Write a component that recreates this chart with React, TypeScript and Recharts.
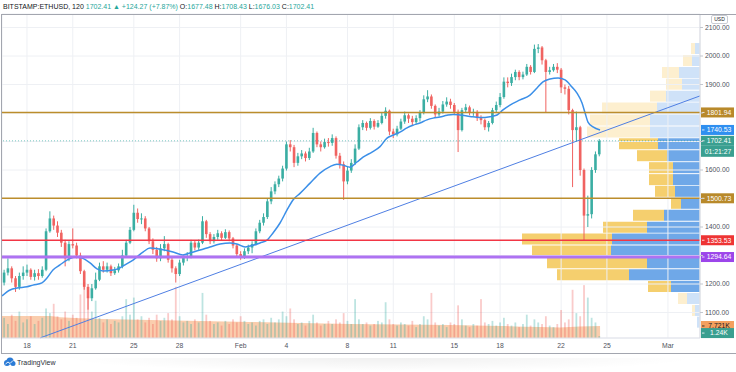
import { Area, Bar, CartesianGrid, Cell, ComposedChart, Line, ReferenceLine, XAxis, YAxis } from 'recharts'

// 6h candles, time = day of 2021 (Jan 1 = 1, Feb 1 = 32, Mar 1 = 60)
const FIRST_OPEN = 1205
const CANDLE_START = 16.5
const CANDLE_STEP = 0.25

const closes = [
  1240, 1255, 1220, 1190, 1228, 1240, 1250, 1225, 1238, 1228,
  1250, 1385, 1430, 1405, 1380, 1345, 1290, 1340, 1335, 1300,
  1245, 1190, 1150, 1185, 1215, 1262, 1250, 1262, 1238, 1248,
  1262, 1300, 1345, 1390, 1450, 1428, 1430, 1395, 1350, 1320,
  1290, 1325, 1340, 1285, 1255, 1235, 1275, 1292, 1298, 1345,
  1328, 1345, 1420, 1375, 1350, 1365, 1378, 1362, 1382, 1360,
  1335, 1305, 1295, 1315, 1328, 1340, 1385, 1415, 1435, 1490,
  1525, 1550, 1570, 1605, 1690, 1680, 1625, 1648, 1658, 1642,
  1665, 1730, 1690, 1680, 1698, 1695, 1712, 1650, 1620, 1560,
  1598, 1625, 1675, 1750, 1765, 1748, 1772, 1752, 1765, 1790,
  1808, 1735, 1725, 1745, 1770, 1792, 1780, 1768, 1782, 1800,
  1848, 1858, 1825, 1795, 1805, 1830, 1840, 1828, 1804, 1740,
  1810, 1820, 1800, 1804, 1782, 1775, 1750, 1765, 1810, 1828,
  1856, 1910, 1905, 1926, 1944, 1926, 1935, 1962, 1944, 2025,
  2030, 1985, 1944, 1950, 1962, 1952, 1890, 1885, 1810, 1740,
  1750, 1600, 1440, 1445, 1600, 1655, 1702.41,
]
const highs = [
  1250, 1290, 1262, 1228, 1240, 1262, 1268, 1255, 1250, 1252,
  1262, 1395, 1455, 1440, 1420, 1390, 1355, 1350, 1395, 1345,
  1310, 1250, 1200, 1200, 1240, 1275, 1280, 1275, 1268, 1260,
  1272, 1320, 1355, 1400, 1478, 1465, 1448, 1438, 1400, 1360,
  1330, 1340, 1368, 1345, 1292, 1262, 1285, 1300, 1312, 1355,
  1352, 1356, 1438, 1425, 1382, 1375, 1390, 1385, 1392, 1388,
  1365, 1340, 1315, 1325, 1338, 1350, 1395, 1425, 1448, 1500,
  1540, 1560, 1580, 1615, 1700, 1705, 1688, 1660, 1670, 1665,
  1678, 1748, 1735, 1700, 1710, 1712, 1725, 1718, 1660, 1630,
  1612, 1638, 1690, 1760, 1775, 1770, 1782, 1778, 1775, 1800,
  1820, 1812, 1745, 1755, 1780, 1805, 1798, 1790, 1792, 1810,
  1862, 1880, 1865, 1830, 1818, 1842, 1855, 1850, 1835, 1812,
  1818, 1832, 1826, 1815, 1810, 1792, 1780, 1772, 1818, 1840,
  1870, 1925, 1925, 1938, 1952, 1950, 1945, 1972, 1968, 2040,
  2042, 2035, 1990, 1962, 1972, 1975, 1958, 1900, 1895, 1815,
  1805, 1755, 1605, 1510, 1610, 1665, 1708.43,
]
const lows = [
  1195, 1230, 1205, 1172, 1180, 1215, 1228, 1215, 1212, 1215,
  1222, 1245, 1380, 1390, 1365, 1330, 1262, 1280, 1325, 1290,
  1235, 1180, 1110, 1140, 1180, 1210, 1240, 1240, 1228, 1232,
  1240, 1255, 1295, 1340, 1385, 1415, 1410, 1385, 1340, 1305,
  1278, 1280, 1315, 1275, 1240, 1205, 1228, 1265, 1280, 1290,
  1318, 1320, 1340, 1362, 1340, 1342, 1355, 1352, 1358, 1350,
  1325, 1295, 1285, 1288, 1305, 1308, 1335, 1378, 1405, 1428,
  1480, 1515, 1540, 1560, 1598, 1665, 1610, 1615, 1638, 1630,
  1635, 1660, 1680, 1665, 1675, 1682, 1685, 1640, 1605, 1495,
  1550, 1590, 1618, 1670, 1740, 1738, 1742, 1742, 1748, 1760,
  1780, 1722, 1712, 1718, 1740, 1762, 1765, 1755, 1760, 1770,
  1795, 1838, 1815, 1785, 1788, 1798, 1822, 1815, 1795, 1663,
  1735, 1800, 1792, 1790, 1772, 1760, 1740, 1735, 1760, 1800,
  1820, 1850, 1890, 1895, 1915, 1915, 1918, 1930, 1935, 1940,
  2010, 1970, 1803, 1935, 1945, 1940, 1870, 1865, 1795, 1540,
  1700, 1580, 1354, 1400, 1430, 1590, 1648,
]
// volume, thousands of ETH
const volumes = [
  13, 9, 15, 11, 17, 10, 12, 14, 9, 11, 13,
  19, 16, 22, 14, 12, 17, 11, 15, 13, 28, 36,
  27, 17, 24, 13, 10, 12, 9, 11, 10, 14, 25,
  15, 26, 12, 14, 10, 13, 9, 15, 11, 13, 16,
  12, 33, 14, 10, 11, 9, 12, 10, 29, 15, 11,
  9, 10, 8, 11, 9, 12, 10, 14, 11, 9, 10,
  8, 11, 12, 9, 13, 10, 12, 17, 14, 19, 12,
  9, 10, 8, 11, 15, 10, 8, 9, 11, 9, 12,
  10, 16, 11, 9, 25, 12, 9, 10, 8, 9, 11,
  10, 23, 12, 9, 8, 10, 9, 8, 11, 7, 9,
  14, 12, 29, 10, 8, 9, 7, 10, 9, 21, 12,
  8, 7, 9, 8, 25, 10, 9, 11, 8, 10, 13,
  9, 8, 10, 7, 9, 15, 8, 12, 10, 9, 14,
  8, 7, 9, 18, 10, 12, 31, 16, 14, 34, 26, 13, 10, 1.24,
]

const maDays = [
  16.36, 16.89, 17.34, 18.0, 18.39, 18.98, 19.31, 19.7, 20.16, 20.62,
  21.15, 21.6, 22.13, 22.59, 22.98, 23.64, 23.96, 24.42, 24.95, 25.6,
  26.06, 26.72, 27.57, 28.22, 28.68, 29.34, 29.99, 30.65, 31.3, 31.76,
  32.29, 32.61, 33.27, 33.73, 34.12, 34.58, 35.04, 35.43, 35.89, 36.55,
  37.2, 37.86, 38.31, 38.71, 39.17, 39.62, 40.02, 40.61, 41.13, 41.59,
  41.98, 42.44, 42.9, 43.29, 43.75, 44.21, 44.61, 45.06, 45.52, 45.92,
  46.37, 47.03, 47.69, 48.34, 48.8, 49.19, 49.65, 50.31, 50.96, 51.42,
  51.81, 52.27, 52.8, 53.26, 53.71, 54.04, 54.37, 54.57, 54.76, 55.09, 55.55,
]
const maValues = [
  1158, 1179, 1186, 1190, 1196, 1204, 1221, 1249, 1267, 1284,
  1295, 1291, 1274, 1253, 1246, 1249, 1253, 1267, 1284, 1312,
  1326, 1322, 1312, 1302, 1309, 1319, 1330, 1340, 1344, 1340,
  1330, 1333, 1344, 1354, 1379, 1414, 1460, 1495, 1518, 1554,
  1589, 1612, 1620, 1617, 1610, 1628, 1645, 1663, 1682, 1712,
  1722, 1733, 1748, 1757, 1765, 1776, 1782, 1786, 1792, 1795,
  1793, 1788, 1784, 1787, 1793, 1811, 1828, 1846, 1863, 1888,
  1909, 1919, 1923, 1916, 1891, 1870, 1835, 1800, 1768, 1751, 1740.53,
]

const volMaDays = [16.36, 19.51, 20.16, 22.78, 26.06, 29.34, 32.61, 35.89, 39.17, 42.44, 45.72, 49.0, 51.62, 52.93, 54.24, 55.55]
const volMaValues = [14.1, 14.1, 13.3, 12.3, 11.6, 10.9, 10.3, 9.6, 9.0, 8.7, 8.4, 7.7, 7.1, 6.8, 7.4, 7.721]

// visible range volume profile rows
const vpPrices = [2025, 1983, 1941, 1900, 1858, 1816, 1774, 1732, 1691, 1649, 1607, 1565, 1524, 1482, 1440, 1398, 1357, 1315, 1273, 1231, 1190, 1148, 1106, 1065]
const vpUp = [5, 8, 21, 18, 34, 43, 50, 50, 42, 33, 27, 27, 25, 19, 36, 53, 88, 89, 53, 71, 29, 13, 5, 3]
const vpDown = [4, 9, 17, 16, 16, 55, 60, 63, 39, 30, 24, 24, 20, 10, 31, 44, 90, 79, 100, 72, 23, 9, 3, 0]
const vpValueArea = [0, 0, 0, 0, 0, 0, 0, 0, 1, 1, 1, 1, 1, 1, 1, 1, 1, 1, 1, 1, 1, 0, 0, 0]

const dayTicks = [18, 21, 25, 28, 32, 35, 39, 42, 46, 49, 53, 56, 60]
const priceTicks = [1100, 1200, 1300, 1400, 1500, 1600, 1700, 1800, 1900, 2000, 2100]
const coveredTicks = [1300, 1500, 1700, 1800]

const trendFrom = { x: 18.87, y: 1011 }
const trendTo = { x: 62.1, y: 1860 }

const X_DOMAIN: [number, number] = [16.362, 62.1]
const Y_DOMAIN: [number, number] = [1010.53, 2147.37]
const VOL_DOMAIN: [number, number] = [0, 208.4]

const UP = '#26a69a'
const DOWN = '#ef5350'
const FONT = '"Liberation Sans", Arial, sans-serif'

const candles = closes.map((c, i) => {
  const o = i === 0 ? FIRST_OPEN : closes[i - 1]
  return { t: CANDLE_START + i * CANDLE_STEP, o, c, h: highs[i], l: lows[i], range: [lows[i], highs[i]], v: volumes[i] }
})
const maData = maDays.map((t, i) => ({ t, ma: maValues[i] }))
const volMaData = volMaDays.map((t, i) => ({ t, vm: volMaValues[i] }))
const profile = vpPrices.map((p, i) => ({ p, up: vpUp[i], dn: vpDown[i], va: vpValueArea[i] === 1 }))

function dayLabel(d: number) {
  if (d === 32) return 'Feb'
  if (d === 60) return 'Mar'
  return String(d > 32 ? d - 31 : d)
}

function Candle(props: any) {
  const { x, y, width, height, payload } = props
  if (x == null || !payload) return <g />
  const top = Math.min(y, y + height)
  const h = Math.abs(height)
  const span = payload.h - payload.l
  const k = span > 0 ? h / span : 0
  const yo = top + (payload.h - payload.o) * k
  const yc = top + (payload.h - payload.c) * k
  const col = payload.c >= payload.o ? UP : DOWN
  const cx = x + width / 2
  return (
    <g opacity={0.9}>
      <line x1={cx} x2={cx} y1={top} y2={top + h} stroke={col} strokeWidth={1} />
      <rect x={cx - 1.3} y={Math.min(yo, yc)} width={2.6} height={Math.max(1, Math.abs(yc - yo))} fill={col} />
    </g>
  )
}

function VolBar(props: any) {
  const { x, y, width, height, payload } = props
  if (x == null || !payload) return <g />
  const col = payload.c >= payload.o ? 'rgba(38,166,154,0.3)' : 'rgba(239,83,80,0.3)'
  return <rect x={x + width / 2 - 0.9} y={Math.min(y, y + height)} width={1.8} height={Math.abs(height)} fill={col} />
}

function PriceTick(props: any) {
  const { x, y, payload } = props
  if (coveredTicks.includes(payload.value)) return <g />
  return (
    <text x={x} y={y} dy="0.35em" fontSize={6.8} fill="#50535e" textAnchor="start">
      {payload.value.toFixed(2)}
    </text>
  )
}

function Tag(props: any) {
  const { viewBox, text, bg, fg = '#fff', extra, dy = 0 } = props
  if (!viewBox) return <g />
  const x = viewBox.x + viewBox.width + 1
  const y = viewBox.y + dy
  return (
    <g>
      <rect x={x} y={y - 5} width={33} height={10} fill={bg} />
      <line x1={x + 1} x2={x + 3.5} y1={y} y2={y} stroke={fg} strokeWidth={0.8} />
      <text x={x + 18} y={y} dy="0.35em" textAnchor="middle" fontSize={6.8} fill={fg}>{text}</text>
      {extra && (
        <g>
          <rect x={x} y={y + 5} width={33} height={11} fill={bg} />
          <text x={x + 17} y={y + 10.5} dy="0.35em" textAnchor="middle" fontSize={6.8} fill={fg}>{extra}</text>
        </g>
      )}
    </g>
  )
}

function VolumeProfile() {
  return (
    <ComposedChart
      layout="vertical"
      width={736}
      height={354}
      data={profile}
      margin={{ top: 14, right: 36, bottom: 16, left: 2 }}
      style={{ position: 'absolute', left: 0, top: 0 }}
    >
      <XAxis type="number" domain={[0, 698]} reversed hide allowDataOverflow />
      <YAxis type="number" dataKey="p" domain={Y_DOMAIN} reversed hide allowDataOverflow />
      <Bar dataKey="up" stackId="vp" barSize={11} isAnimationActive={false}>
        {profile.map((r, i) => <Cell key={i} fill={r.va ? '#6fa8e8' : '#cfe2f8'} />)}
      </Bar>
      <Bar dataKey="dn" stackId="vp" barSize={11} isAnimationActive={false}>
        {profile.map((r, i) => <Cell key={i} fill={r.va ? '#f5cf6e' : '#fdefcf'} />)}
      </Bar>
    </ComposedChart>
  )
}

export default function App() {
  return (
    <div style={{ position: 'relative', width: 736, height: 372, background: '#fff', fontFamily: FONT, overflow: 'hidden' }}>
      <style>{'body{margin:0}'}</style>

      <div style={{ position: 'absolute', left: 3, top: 1, fontSize: 7, whiteSpace: 'nowrap', color: '#131722', lineHeight: '11px' }}>
        <span>BITSTAMP:ETHUSD, 120 </span>
        <span style={{ color: UP }}>1702.41 ▲ +124.27 (+7.87%) </span>
        <span>O:</span><span style={{ color: UP }}>1677.48 </span>
        <span>H:</span><span style={{ color: UP }}>1708.43 </span>
        <span>L:</span><span style={{ color: UP }}>1676.03 </span>
        <span>C:</span><span style={{ color: UP }}>1702.41</span>
      </div>

      <VolumeProfile />

      <ComposedChart
        width={736}
        height={354}
        data={candles}
        margin={{ top: 14, right: 0, bottom: 0, left: 2 }}
        style={{ position: 'absolute', left: 0, top: 0 }}
      >
        <CartesianGrid stroke="#eef0f4" />
        <XAxis
          dataKey="t"
          type="number"
          domain={X_DOMAIN}
          ticks={dayTicks}
          tickFormatter={dayLabel}
          allowDataOverflow
          height={16}
          tickSize={0}
          tickMargin={5}
          axisLine={{ stroke: '#e0e3eb' }}
          tick={{ fontSize: 6.8, fill: '#50535e' }}
        />
        <XAxis xAxisId="vol" dataKey="t" type="number" domain={X_DOMAIN} ticks={dayTicks} hide allowDataOverflow />
        <YAxis
          orientation="right"
          type="number"
          domain={Y_DOMAIN}
          ticks={priceTicks}
          allowDataOverflow
          width={36}
          tickSize={3}
          tickMargin={2}
          axisLine={{ stroke: '#d6d9e0' }}
          tickLine={{ stroke: '#c4c7ce' }}
          tick={<PriceTick />}
        />
        <YAxis yAxisId="vol" domain={VOL_DOMAIN} hide allowDataOverflow />

        <Area
          xAxisId="vol"
          yAxisId="vol"
          data={volMaData}
          dataKey="vm"
          type="monotone"
          stroke="none"
          fill="#f5a46a"
          fillOpacity={0.55}
          isAnimationActive={false}
        />
        <Bar
          xAxisId="vol"
          yAxisId="vol"
          dataKey="v"
          barSize={3}
          isAnimationActive={false}
          shape={(p: any) => <VolBar {...p} />}
        />

        <ReferenceLine segment={[trendFrom, trendTo]} stroke="#4f7fe3" strokeWidth={1} ifOverflow="visible" />

        <Bar dataKey="range" barSize={3} isAnimationActive={false} shape={(p: any) => <Candle {...p} />} />
        <Line
          data={maData}
          dataKey="ma"
          type="monotone"
          stroke="#3b8fe8"
          strokeWidth={1.5}
          dot={false}
          isAnimationActive={false}
        />

        <ReferenceLine y={1801.94} stroke="#bb8d2c" strokeWidth={1.6} label={<Tag text="1801.94" bg="#b8892a" />} />
        <ReferenceLine y={1500.73} stroke="#bb8d2c" strokeWidth={1.6} label={<Tag text="1500.73" bg="#b8892a" />} />
        <ReferenceLine y={1353.53} stroke="#f23645" strokeWidth={1.4} label={<Tag text="1353.53" bg="#ee3434" />} />
        <ReferenceLine y={1294.64} stroke="#ae72f2" strokeWidth={3} label={<Tag text="1294.64" bg="#9c45ea" />} />
        <ReferenceLine y={1740.53} stroke="none" label={<Tag text="1740.53" bg="#2f8ff0" />} />
        <ReferenceLine
          y={1702.41}
          stroke="#26a69a"
          strokeOpacity={0.6}
          strokeDasharray="1 2"
          label={<Tag text="1702.41" bg="#3a9f90" extra="01:21:27" />}
        />
        <ReferenceLine xAxisId="vol" yAxisId="vol" y={7.721} stroke="none" label={<Tag text="7.721K" bg="#f4a05e" fg="#131722" />} />
        <ReferenceLine xAxisId="vol" yAxisId="vol" y={1.24} stroke="none" label={<Tag text="1.24K" bg="#3a9f90" dy={-3} />} />
      </ComposedChart>

      <div style={{ position: 'absolute', left: 1, top: 14, width: 735, height: 340, border: '1px solid #a3a6af', borderRight: 'none', boxSizing: 'border-box', pointerEvents: 'none' }} />

      <div style={{ position: 'absolute', left: 711, top: 15, width: 15, height: 7, border: '1px solid #c9ccd3', borderRadius: 2, background: '#fff', fontSize: 5, lineHeight: '7px', textAlign: 'center', color: '#131722' }}>
        USD
      </div>

      <div style={{ position: 'absolute', left: 60, top: 358, width: 640, height: 14, background: 'radial-gradient(ellipse at center top, rgba(0,0,0,0.06), rgba(0,0,0,0) 70%)' }} />
      <svg style={{ position: 'absolute', left: 3, top: 357 }} width={13} height={10}>
        <circle cx={4} cy={6} r={3} fill="#2b7bd6" />
        <circle cx={7} cy={4} r={3.5} fill="#2b7bd6" />
        <circle cx={10} cy={6.5} r={2.5} fill="#2b7bd6" />
        <polyline points="2.5,7 5,5 7,6.5 10,3.5" fill="none" stroke="#fff" strokeWidth={0.9} />
      </svg>
      <div style={{ position: 'absolute', left: 17, top: 357, fontSize: 7, color: '#2a2e39', lineHeight: '11px' }}>TradingView</div>
    </div>
  )
}
